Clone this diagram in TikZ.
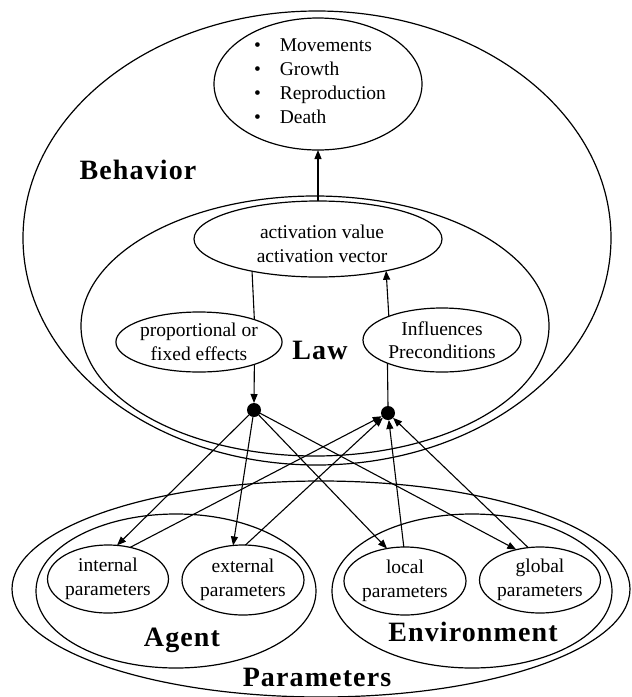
\documentclass[tikz,border=0pt]{standalone}
\usepackage{fontspec}
\setmainfont{Liberation Serif}
\newfontfamily\labfont[LetterSpace=4]{Liberation Serif}
\usetikzlibrary{shapes.geometric,arrows.meta}
\begin{document}
\begin{tikzpicture}[x=1pt,y=-1pt,
  every node/.style={inner sep=0pt, outer sep=0pt},
  ell/.style={draw, ellipse, line width=1.2pt},
  txt/.style={font=\fontsize{19.5}{23.5}\selectfont, align=center},
  biglab/.style={font=\fontsize{28}{30}\selectfont\labfont\bfseries},
  arr/.style={line width=1.1pt, -{Triangle[length=9pt,width=7pt]}},
  ln/.style={line width=1.1pt},
  dotn/.style={circle, fill=black, minimum size=14pt}]
\useasboundingbox (0,0) rectangle (632,697);

% containers
\node[ell, minimum width=588pt, minimum height=454pt] (behav) at (317,238) {};
\node[ell, minimum width=468pt, minimum height=260pt] (law) at (315,326) {};
\node[ell, minimum width=618pt, minimum height=216pt] (params) at (321,589) {};
\node[ell, minimum width=280pt, minimum height=154pt] (agent) at (176,591) {};
\node[ell, minimum width=280pt, minimum height=154pt] (env) at (472,591) {};

% inner ellipses
\node[ell, minimum width=208pt, minimum height=132pt] (list) at (318,84) {};
\node[ell, minimum width=248pt, minimum height=76pt] (act) at (318,239) {};
\node[ell, minimum width=164pt, minimum height=60pt, txt] (prop) at (199,342) {proportional or\\fixed effects};
\node[ell, minimum width=158pt, minimum height=64pt, txt] (infl) at (442,340) {Influences\\Preconditions};
\node[ell, minimum width=118pt, minimum height=68pt, txt] (int) at (108,579) {internal\\parameters};
\node[ell, minimum width=122pt, minimum height=70pt, txt] (ext) at (243,580) {external\\parameters};
\node[ell, minimum width=122pt, minimum height=68pt, txt] (loc) at (405,581) {local\\parameters};
\node[ell, minimum width=120pt, minimum height=66pt, txt] (glob) at (540,580) {global\\parameters};

% texts
\node[font=\fontsize{19.5}{24}\selectfont, anchor=west] (listtxt) at (254,83)
  {\begin{tabular}{@{}l@{\hspace{19pt}}l@{}}\textbullet & Movements\\ \textbullet & Growth\\ \textbullet & Reproduction\\ \textbullet & Death\end{tabular}};
\node[txt] (acttxt) at (322,244) {activation value\\activation vector};

\node[biglab] (lbeh) at (138,170) {Behavior};
\node[biglab] (llaw) at (320,350) {Law};
\node[biglab] (lagent) at (182,640) {Agent};
\node[biglab] (lenv) at (473,632) {Environment};
\node[biglab] (lpar) at (317,677) {Parameters};

% dots
\node[dotn] (dot1) at (254,410) {};
\node[dotn] (dot2) at (388,413) {};

% vertical connectors
\draw[arr] (act.north) -- (list.south);
\draw[ln] (act.206.9) -- (prop.22);
\draw[arr] (prop.338) -- (dot1.north);
\draw[ln] (dot2.north) -- (infl.203.4);
\draw[arr] (infl.156.6) -- (act.335.8);

% from dot1 to parameters
\draw[arr] (dot1) -- (int.75);
\draw[arr] (dot1) -- (ext.106.2);
\draw[arr] (dot1) -- (loc.119);
\draw[arr] (dot1) -- (glob.128.5);

% from parameters to dot2
\draw[arr] (int.55.1) -- (dot2);
\draw[arr] (ext.86) -- (dot2);
\draw[arr] (loc.92) -- (dot2);
\draw[arr] (glob.110.4) -- (dot2);
\end{tikzpicture}
\end{document}
